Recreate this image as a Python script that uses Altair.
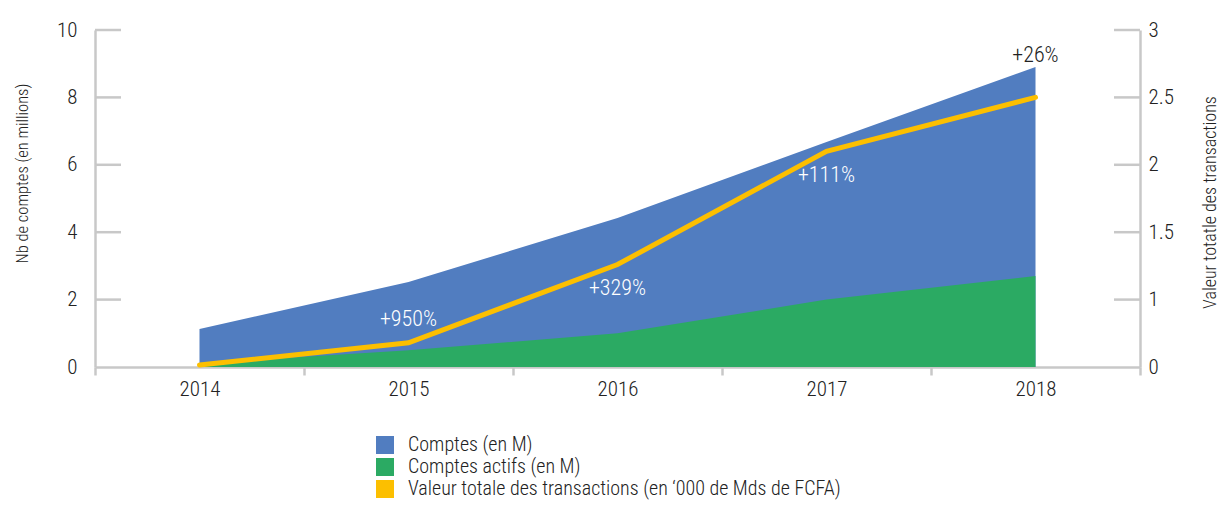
import altair as alt
import pandas as pd

years = ["2014", "2015", "2016", "2017", "2018"]
comptes = [1.13, 2.52, 4.42, 6.68, 8.9]
comptes_actifs = [0.1, 0.5, 1.0, 2.0, 2.7]
valeur_transactions = [0.03, 0.36, 1.26, 2.10, 2.5]

ann_years = ["2015", "2016", "2017", "2018"]
ann_labels = ["+950%", "+329%", "+111%", "+26%"]
ann_pos = [1.42, 2.34, 5.70, 9.25]

left_ticks = [2, 4, 6, 8, 10]
right_ticks = [1, 1.5, 2, 2.5, 3]
right_tick_labels = [0, 1, 1.5, 2, 2.5, 3]

series = ["Comptes (en M)", "Comptes actifs (en M)",
          "Valeur totale des transactions (en \u2018000 de Mds de FCFA)"]
colors = ["#517dc0", "#2baa63", "#fcbf00"]

FONT = "Roboto Condensed, Roboto, sans-serif"
W, H = 1045, 337
GRAY = "#c8c8c8"
TXT = "#222222"

df = pd.DataFrame({"year": years, "comptes": comptes, "actifs": comptes_actifs,
                   "valeur": valeur_transactions})
ann = pd.DataFrame({"year": ann_years, "label": ann_labels, "pos": ann_pos})
lt = pd.DataFrame({"v": left_ticks})
rt = pd.DataFrame({"v": right_ticks})

xenc = alt.X("year:O", bandPosition=0.5,
             scale=alt.Scale(type="band", paddingInner=0, paddingOuter=0, domain=years),
             axis=alt.Axis(title=None, tickBand="extent", tickSize=8, tickColor=GRAY,
                           tickWidth=2.5, domainColor=GRAY, domainWidth=2.5,
                           labelPadding=3, labelFontSize=21, labelColor=TXT,
                           labelFontWeight=300, labelAngle=0, labelFont=FONT))

yleft_scale = alt.Scale(domain=[0, 10], nice=False, zero=True)
yleft_axis = alt.Axis(title="Nb de comptes (en millions)", values=[0, 2, 4, 6, 8, 10],
                      tickSize=0, labelPadding=18, domainColor=GRAY, domainWidth=2.5,
                      labelFontSize=21, labelColor=TXT, labelFont=FONT, labelFontWeight=300,
                      titleFontSize=16.5, titleFontWeight=300, titleColor=TXT,
                      titleFont=FONT, titlePadding=26, titleY=143, grid=False)

color_scale = alt.Scale(domain=series, range=colors)
legend = alt.Legend(title=None, orient="none", legendX=280, legendY=405,
                    symbolType="square", symbolSize=324, symbolStrokeWidth=0,
                    symbolOpacity=1, labelFontSize=20, labelColor=TXT, labelFont=FONT,
                    labelFontWeight=300, rowPadding=2, labelOffset=13, labelLimit=700)

blue = alt.Chart(df).transform_calculate(s=f"'{series[0]}'").mark_area(opacity=1).encode(
    x=xenc,
    y=alt.Y("comptes:Q", scale=yleft_scale, axis=yleft_axis, stack=None),
    color=alt.Color("s:N", scale=color_scale, legend=legend),
)
green = alt.Chart(df).transform_calculate(s=f"'{series[1]}'").mark_area(opacity=1).encode(
    x=xenc,
    y=alt.Y("actifs:Q", stack=None),
    color=alt.Color("s:N", scale=color_scale, legend=legend),
)
text = alt.Chart(ann).mark_text(fontSize=22, font=FONT, fontWeight=300).encode(
    x=xenc,
    y=alt.Y("pos:Q"),
    text="label:N",
    color=alt.condition(alt.datum.year == "2018", alt.value(TXT), alt.value("white")),
)
lticks = alt.Chart(lt).mark_rule(color=GRAY, strokeWidth=2.5).encode(
    y=alt.Y("v:Q"), x=alt.value(0), x2=alt.value(26)
)
left = alt.layer(blue, green, text, lticks)

yright_scale = alt.Scale(domain=[0, 1, 1.5, 2, 2.5, 3],
                         range=[H, H * 4 / 5, H * 3 / 5, H * 2 / 5, H / 5, 0],
                         nice=False, zero=False)
yright_axis = alt.Axis(title="Valeur totatle des transactions", orient="right",
                       values=right_tick_labels, format="~g", tickSize=0, labelPadding=8,
                       domainColor=GRAY, domainWidth=2.5, labelFontSize=21,
                       labelColor=TXT, labelFont=FONT, labelFontWeight=300,
                       titleFontSize=18, titleFontWeight=300, titleColor=TXT,
                       titleFont=FONT, titlePadding=46, titleAngle=270, titleY=172,
                       grid=False)

line = alt.Chart(df).mark_line(color=colors[2], strokeWidth=5, strokeCap="round").encode(
    x=xenc,
    y=alt.Y("valeur:Q", scale=yright_scale, axis=yright_axis),
)
rticks = alt.Chart(rt).mark_rule(color=GRAY, strokeWidth=2.5).encode(
    y=alt.Y("v:Q"), x=alt.value(W - 26), x2=alt.value(W)
)
right = alt.layer(line, rticks)

chart = alt.layer(left, right).resolve_scale(y="independent").properties(
    width=W, height=H,
    padding={"left": 87, "top": 22, "right": 79, "bottom": 135},
    autosize=alt.AutoSizeParams(type="none"),
).configure_view(stroke=None)

chart.save("out.html", embed_options={"renderer": "svg", "actions": False})
